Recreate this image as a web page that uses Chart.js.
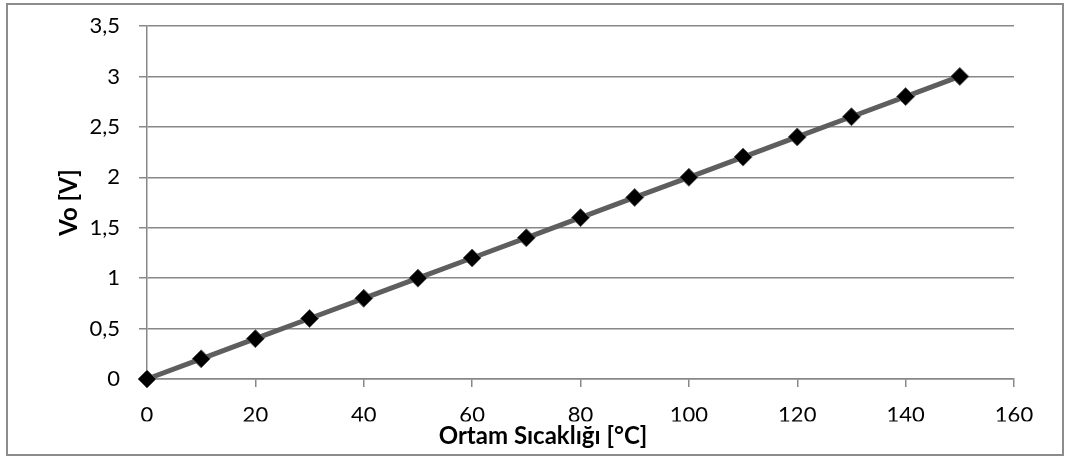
<!DOCTYPE html>
<html>
<head>
<meta charset="utf-8">
<script src="https://cdn.jsdelivr.net/npm/chart.js@4/dist/chart.umd.min.js"></script>
<style>
  html, body { margin: 0; padding: 0; background: #ffffff; }
  #wrap { position: relative; width: 1066px; height: 457px; }
</style>
</head>
<body>
<div id="wrap"><canvas id="c" width="1066" height="457"></canvas></div>
<script>
// Ambient temperature (°C) and output voltage Vo (V)
const temperatures = [0, 10, 20, 30, 40, 50, 60, 70, 80, 90, 100, 110, 120, 130, 140, 150];
const voltages = [0, 0.2, 0.4, 0.6, 0.8, 1.0, 1.2, 1.4, 1.6, 1.8, 2.0, 2.2, 2.4, 2.6, 2.8, 3.0];
const xTicks = [0, 20, 40, 60, 80, 100, 120, 140, 160];
const yTicks = [0, 0.5, 1, 1.5, 2, 2.5, 3, 3.5];
const xTitle = 'Ortam Sıcaklığı [°C]';
const yTitle = 'Vo [V]';

const FONT = 'Lato, "Open Sans", sans-serif';
const GRID = '#888888';

// Gray frame around the whole chart
const framePlugin = {
  id: 'frame',
  afterDraw(chart) {
    const ctx = chart.ctx;
    ctx.save();
    ctx.strokeStyle = '#8c8c8c';
    ctx.lineWidth = 2;
    ctx.strokeRect(7, 4, 1056, 451);
    ctx.restore();
  }
};

new Chart(document.getElementById('c'), {
  type: 'scatter',
  data: {
    datasets: [{
      data: temperatures.map((t, i) => ({ x: t, y: voltages[i] })),
      showLine: true,
      clip: false,
      borderColor: '#5e5e5e',
      borderWidth: 5,
      pointStyle: 'rectRot',
      pointRadius: 9,
      pointHoverRadius: 9,
      pointBackgroundColor: '#000000',
      pointBorderColor: '#5e5e5e',
      pointBorderWidth: 1
    }]
  },
  options: {
    responsive: false,
    animation: false,
    events: [],
    layout: { padding: { left: 72, right: 52, top: 26, bottom: 6.6 } },
    plugins: {
      legend: { display: false },
      tooltip: { enabled: false },
      title: {
        display: true,
        position: 'bottom',
        text: xTitle,
        color: '#000000',
        font: { family: FONT, size: 24, weight: 'bold', lineHeight: 1.2 },
        padding: { top: 0, bottom: 0 }
      }
    },
    scales: {
      x: {
        type: 'linear',
        min: 0,
        max: 160,
        afterBuildTicks(scale) { scale.ticks = xTicks.map(v => ({ value: v })); },
        afterFit(scale) { scale.height = 42.6; },
        border: { display: true, color: GRID, width: 1.5 },
        grid: { display: true, drawOnChartArea: false, drawTicks: true, tickLength: 8, color: GRID, lineWidth: 1.5 },
        ticks: {
          color: '#000000',
          font: { family: FONT, size: 22, lineHeight: 1.2 },
          padding: 15,
          maxRotation: 0,
          autoSkip: false
        }
      },
      y: {
        type: 'linear',
        min: 0,
        max: 3.5,
        afterBuildTicks(scale) { scale.ticks = yTicks.map(v => ({ value: v })); },
        afterFit(scale) { scale.width = 75; },
        border: { display: true, color: GRID, width: 1.5 },
        grid: { display: true, drawTicks: true, tickLength: 8, color: GRID, lineWidth: 1.5 },
        ticks: {
          color: '#000000',
          font: { family: FONT, size: 22, lineHeight: 0.5 },
          padding: 19,
          autoSkip: false,
          callback: (v) => String(v).replace('.', ',')
        },
        title: {
          display: true,
          text: yTitle,
          color: '#000000',
          font: { family: FONT, size: 24, weight: 'bold', lineHeight: 1.2 },
          padding: { top: -17, bottom: 0 }
        }
      }
    }
  },
  plugins: [framePlugin]
});
</script>
</body>
</html>
